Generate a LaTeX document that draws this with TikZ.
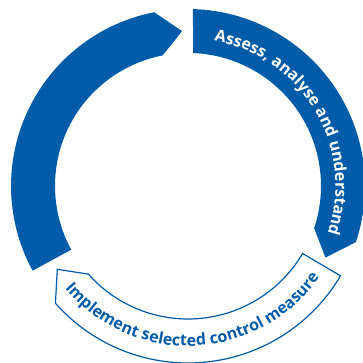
\documentclass[tikz,border=0pt]{standalone}
\usepackage{fontspec}
\setmainfont{Open Sans}
\usetikzlibrary{decorations.text}
\definecolor{cycleblue}{HTML}{005CA9}
\begin{document}
\begin{tikzpicture}[x=1pt,y=1pt,
  bluearc/.style={fill=cycleblue},
  whitearc/.style={draw=cycleblue,line width=1.2pt,fill=white,line join=miter},
  arclabel/.style={decorate,decoration={text along path,text align=center,
    text={#1}}}]
% canvas, centre of the ring at the origin
\useasboundingbox (-188,-177) rectangle (174,186);
\def\Ro{177}\def\Ri{133}\def\Rm{155}
% step 1: assess (blue, top right)
\fill[bluearc] (87.8:\Ri) -- (88.4:\Ro)
  arc[start angle=88.4,end angle=-18.5,radius=\Ro]
  -- (-27.5:\Rm) -- (-18.5:\Ri)
  arc[start angle=-18.5,end angle=87.8,radius=\Ri] -- cycle;
% step 2: implement (outlined, bottom)
\draw[whitearc] (-30.5:\Ri) -- (-30.5:\Ro)
  arc[start angle=-30.5,end angle=-138.5,radius=\Ro]
  -- (-147.5:\Rm) -- (-138.5:\Ri)
  arc[start angle=-138.5,end angle=-30.5,radius=\Ri] -- cycle;
% step 3: review (blue, left)
\fill[bluearc] (208.6:\Ri) -- (208.6:\Ro)
  arc[start angle=208.6,end angle=101,radius=\Ro]
  -- (92.2:\Rm) -- (101:\Ri)
  arc[start angle=101,end angle=208.6,radius=\Ri] -- cycle;
% labels along the ring
\path[arclabel={|\bfseries\fontsize{16}{16}\selectfont\color{white}|Assess, analyse and understand}]
  (100.5:147.5) arc[start angle=100.5,end angle=-39.5,radius=147.5];
\path[arclabel={|\bfseries\fontsize{16}{16}\selectfont\color{cycleblue}|Implement selected control measure}]
  (202.5:160) arc[start angle=202.5,end angle=342.5,radius=160];
\end{tikzpicture}
\end{document}
